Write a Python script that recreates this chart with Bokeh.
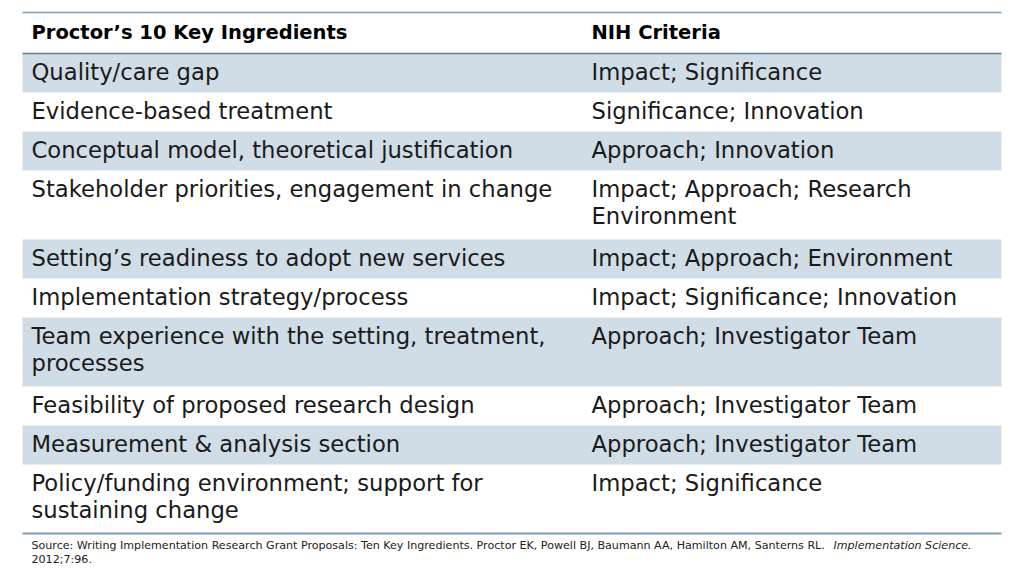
from bokeh.plotting import figure
from bokeh.models import Range1d, ColumnDataSource
from bokeh.core.properties import value
from bokeh.embed import file_html
from bokeh.resources import INLINE

# ---- data ----
headers = ["Proctor’s 10 Key Ingredients", "NIH Criteria"]
ingredients = [
    "Quality/care gap",
    "Evidence-based treatment",
    "Conceptual model, theoretical justification",
    "Stakeholder priorities, engagement in change",
    "Setting’s readiness to adopt new services",
    "Implementation strategy/process",
    "Team experience with the setting, treatment,\nprocesses",
    "Feasibility of proposed research design",
    "Measurement & analysis section",
    "Policy/funding environment; support for\nsustaining change",
]
criteria = [
    "Impact; Significance",
    "Significance; Innovation",
    "Approach; Innovation",
    "Impact; Approach; Research\nEnvironment",
    "Impact; Approach; Environment",
    "Impact; Significance; Innovation",
    "Approach; Investigator Team",
    "Approach; Investigator Team",
    "Approach; Investigator Team",
    "Impact; Significance",
]
source_main = ("Source: Writing Implementation Research Grant Proposals: Ten Key Ingredients. "
               "Proctor EK, Powell BJ, Baumann AA, Hamilton AM, Santerns RL. ")
source_journal = "Implementation Science"
source_tail = "2012;7:96."

FONT = "DejaVu Sans"
SHADE = "#d1dde6"
LINE = "#7f9db1"

# ---- layout ----
W, H = 1016, 568
X0, X1 = 22, 1001
COL1_X, COL2_X = 31, 591
TOP = 12
HEAD_H = 41
SINGLE_H = 39
EXTRA_H = 30
FS = 22.7
LINE_STEP = 27.8
LH = LINE_STEP / (FS * 1.164)

p = figure(width=W, height=H, output_backend="svg", toolbar_location=None,
           x_range=Range1d(0, W), y_range=Range1d(H, 0), min_border=0)
p.axis.visible = False
p.grid.visible = False
p.outline_line_color = None
p.background_fill_color = "white"
p.border_fill_color = "white"

tops, bottoms = [], []
y = TOP + HEAD_H
for a, b in zip(ingredients, criteria):
    n = max(a.count("\n"), b.count("\n")) + 1
    h = SINGLE_H + EXTRA_H * (n - 1)
    tops.append(y)
    bottoms.append(y + h)
    y += h
table_bottom = y

shaded = ColumnDataSource(dict(
    top=[t for i, t in enumerate(tops) if i % 2 == 0],
    bottom=[b for i, b in enumerate(bottoms) if i % 2 == 0],
))
p.quad(left=X0, right=X1, top="top", bottom="bottom", source=shaded,
       fill_color=SHADE, line_color=None)

# rules
p.segment(x0=[X0, X0, X0], x1=[X1, X1, X1],
          y0=[TOP, TOP + HEAD_H, table_bottom], y1=[TOP, TOP + HEAD_H, table_bottom],
          line_color=[LINE, "#5b7d93", LINE], line_width=[1.5, 1.5, 2])

# header text
p.text(x=[COL1_X, COL2_X], y=[TOP + HEAD_H / 2 - 1] * 2, text=headers,
       text_font=value(FONT), text_font_size="19.5px", text_font_style="bold",
       text_baseline="middle", text_color="black")

# body text
off = 19.5 - 27.8 * 1.164 / 2 + 2
body = ColumnDataSource(dict(
    y=[t + off for t in tops],
    a=ingredients,
    b=criteria,
))
for col, x in (("a", COL1_X), ("b", COL2_X)):
    p.text(x=x, y="y", text=col, source=body, text_font=value(FONT),
           text_font_size=f"{FS}px", text_baseline="top", text_line_height=LH,
           text_color="#1a1a1a")

# source note
SY = table_bottom + 12
SFS = "11.1px"
p.text(x=[COL1_X], y=[SY], text=[source_main], text_font=value(FONT),
       text_font_size=SFS, text_baseline="middle", text_color="#222222")
p.text(x=[833], y=[SY], text=[source_journal + "."], text_font=value(FONT),
       text_font_size=SFS, text_font_style="italic", text_baseline="middle",
       text_color="#222222")
p.text(x=[COL1_X], y=[SY + 14], text=[source_tail], text_font=value(FONT),
       text_font_size=SFS, text_baseline="middle", text_color="#222222")

open("out.html", "w").write(file_html(p, INLINE))
